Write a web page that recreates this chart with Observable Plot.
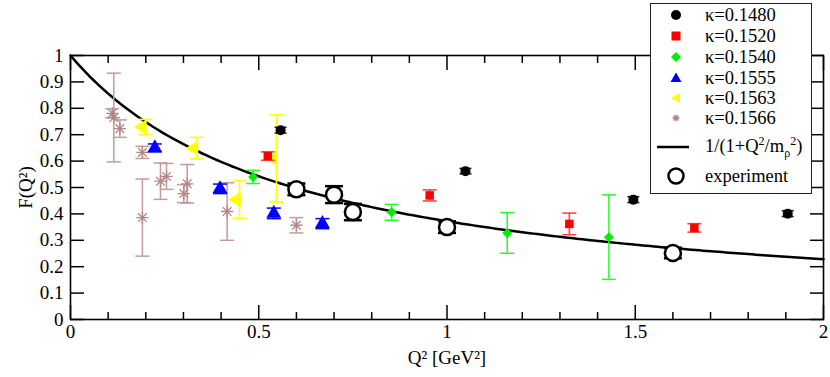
<!DOCTYPE html>
<html><head><meta charset="utf-8">
<script src="https://cdn.jsdelivr.net/npm/d3@7"></script>
<script src="https://cdn.jsdelivr.net/npm/@observablehq/plot@0.6"></script>
<style>
body{margin:0;background:#fff;}
#wrap{position:relative;width:830px;height:377px;font-family:"Liberation Serif","Times New Roman",serif;}
#legend{position:absolute;left:650px;top:3px;width:160px;height:189px;border:1.5px solid #222;background:#fff;}
.row{position:absolute;left:0;width:160px;height:22px;}
.row svg{position:absolute;left:13px;top:0;}
.row span{position:absolute;left:54px;top:0;line-height:22px;font-size:18.5px;color:#000;white-space:nowrap;font-family:"Liberation Serif","Times New Roman",serif;}
sup,sub{font-size:12px;line-height:0;}
</style></head>
<body><div id="wrap"><div id="chart"></div><div id="legend"></div></div>
<script>
// ---- data ----
const mRho = 0.77;                       // rho mass in the monopole curve 1/(1+Q^2/m_rho^2)
const kappaLabels = ["κ=0.1480","κ=0.1520","κ=0.1540","κ=0.1555","κ=0.1563","κ=0.1566"];

const k1480_q2  = [0.558, 1.049, 1.495, 1.905];
const k1480_f   = [0.717, 0.562, 0.454, 0.401];
const k1480_err = [0.011, 0.010, 0.011, 0.011];

const k1520_q2  = [0.524, 0.954, 1.325, 1.657];
const k1520_f   = [0.619, 0.470, 0.362, 0.347];
const k1520_err = [0.016, 0.021, 0.041, 0.016];

const k1540_q2  = [0.485, 0.853, 1.160, 1.430];
const k1540_f   = [0.540, 0.406, 0.328, 0.312];
const k1540_err = [0.025, 0.030, 0.077, 0.160];

const k1555_q2  = [0.224, 0.397, 0.540, 0.669];
const k1555_f   = [0.650, 0.495, 0.402, 0.363];
const k1555_err = [0.015, 0.018, 0.020, 0.019];

const k1563_q2  = [0.199, 0.336, 0.449, 0.547];
const k1563_f   = [0.729, 0.649, 0.454, 0.610];
const k1563_err = [0.029, 0.041, 0.071, 0.165];

const k1566_q2  = [0.111, 0.115, 0.131, 0.191, 0.191, 0.239, 0.255, 0.301, 0.310, 0.416, 0.600];
const k1566_f   = [0.781, 0.765, 0.723, 0.633, 0.386, 0.524, 0.542, 0.477, 0.514, 0.409, 0.357];
const k1566_err = [0.017, 0.168, 0.033, 0.023, 0.146, 0.069, 0.049, 0.034, 0.073, 0.109, 0.029];

const exp_q2  = [0.60, 0.70, 0.75, 1.00, 1.60];
const exp_f   = [0.493, 0.473, 0.407, 0.350, 0.252];
const exp_err = [0.022, 0.032, 0.031, 0.022, 0.020];

const xMajor = [0, 0.5, 1, 1.5, 2];
const xMinor = [0.1,0.2,0.3,0.4,0.6,0.7,0.8,0.9,1.1,1.2,1.3,1.4,1.6,1.7,1.8,1.9];
const yTicks = [0,0.1,0.2,0.3,0.4,0.5,0.6,0.7,0.8,0.9,1];

// ---- build tables ----
const rows = (q, f, e) => q.map((d, i) => ({q: d, f: f[i], e: e[i]}));
const curveQ = d3.range(0, 2.0001, 0.01);           // Q^2 values
const curve = curveQ.map(q => ({q, f: 1 / (1 + q / (mRho * mRho))}));

const hline = {draw(ctx, size) { const r = Math.sqrt(size / Math.PI); ctx.moveTo(-r, 0); ctx.lineTo(r, 0); }};

function errMarks(data, color, w, cap) {
  return [
    Plot.ruleX(data, {x: "q", y1: d => d.f - d.e, y2: d => d.f + d.e, stroke: color, strokeWidth: w}),
    Plot.dot(data, {x: "q", y: d => d.f - d.e, symbol: hline, r: cap, stroke: color, strokeWidth: w}),
    Plot.dot(data, {x: "q", y: d => d.f + d.e, symbol: hline, r: cap, stroke: color, strokeWidth: w})
  ];
}

const s1480 = rows(k1480_q2, k1480_f, k1480_err);
const s1520 = rows(k1520_q2, k1520_f, k1520_err);
const s1540 = rows(k1540_q2, k1540_f, k1540_err);
const s1555 = rows(k1555_q2, k1555_f, k1555_err);
const s1563 = rows(k1563_q2, k1563_f, k1563_err);
const s1566 = rows(k1566_q2, k1566_f, k1566_err);
const sExp  = rows(exp_q2, exp_f, exp_err);

const cBlack = "#000000", cRed = "#ff0000", cGreen = "#00ee00", cBlue = "#0000ff", cYellow = "#ffff00";
const serif = "'Liberation Serif', 'Times New Roman', serif";
const noText = () => "";
const tk = {label: null, tickFormat: noText, stroke: "#000", strokeWidth: 1.5};

const plot = Plot.plot({
  width: 830, height: 377,
  marginLeft: 70, marginRight: 7, marginTop: 55, marginBottom: 58,
  x: {domain: [0, 2]},
  y: {domain: [0, 1]},
  marks: [
    // inward ticks on all four sides
    Plot.axisX({anchor: "bottom", ticks: xMinor, tickSize: -7, ...tk}),
    Plot.axisX({anchor: "bottom", ticks: xMajor, tickSize: -14, ...tk}),
    Plot.axisX({anchor: "top", ticks: xMinor, tickSize: -7, ...tk}),
    Plot.axisX({anchor: "top", ticks: xMajor, tickSize: -14, ...tk}),
    Plot.axisY({anchor: "left", ticks: yTicks, tickSize: -14, ...tk}),
    Plot.axisY({anchor: "right", ticks: yTicks, tickSize: -14, ...tk}),
    Plot.line(curve, {x: "q", y: "f", stroke: "black", strokeWidth: 2.5}),
    ...errMarks(s1566, "#c49a9a", 1.5, 7),
    Plot.dot(s1566, {x: "q", y: "f", symbol: "plus", r: 4, stroke: "#b58585", strokeWidth: 1.3}),
    Plot.dot(s1566, {x: "q", y: "f", symbol: "times", r: 4, stroke: "#b58585", strokeWidth: 1.3}),
    ...errMarks(s1563, cYellow, 1.6, 7),
    Plot.dot(s1563, {x: "q", y: "f", symbol: "triangle", rotate: -90, r: 5.5, fill: cYellow, dx: -3}),
    ...errMarks(s1555, cBlue, 1.5, 7),
    Plot.dot(s1555, {x: "q", y: "f", symbol: "triangle", r: 5.5, fill: cBlue}),
    ...errMarks(s1540, "#22ff22", 1.5, 7),
    Plot.dot(s1540, {x: "q", y: "f", symbol: "diamond2", r: 4.5, fill: cGreen, stroke: "none"}),
    ...errMarks(s1520, "#ff4444", 1.6, 7),
    Plot.dot(s1520, {x: "q", y: "f", symbol: "square", r: 4.8, fill: cRed}),
    ...errMarks(s1480, "#222", 1.6, 6),
    Plot.dot(s1480, {x: "q", y: "f", symbol: "circle", r: 5, fill: cBlack}),
    ...errMarks(sExp, "black", 2.5, 9),
    Plot.dot(sExp, {x: "q", y: "f", symbol: "circle", r: 8, fill: "white", stroke: "black", strokeWidth: 2.5}),
    Plot.frame({stroke: "black", strokeWidth: 1.6}),
    // labels
    Plot.axisX({anchor: "bottom", ticks: xMajor, tickSize: 0, tickPadding: 5, tickFormat: d => String(d),
                label: "Q² [GeV²]", labelAnchor: "center", labelOffset: 44, labelArrow: "none",
                fontSize: 19, fontFamily: serif, fill: "black"}),
    Plot.axisY({anchor: "left", ticks: yTicks, tickSize: 0, tickPadding: 7, tickFormat: d => String(d),
                label: "F(Q²)", labelAnchor: "center", labelOffset: 52, labelArrow: "none",
                fontSize: 19, fontFamily: serif, fill: "black"})
  ]
});
document.getElementById("chart").appendChild(plot);
d3.select(plot).selectAll("text").style("font-family", serif).style("font-size", "19px");

// ---- legend ----
const legend = document.getElementById("legend");
const legendSym = [
  '<circle cx="12" cy="11" r="5" fill="#000"/>',
  '<rect x="7.5" y="6.5" width="9" height="9" fill="#ff0000"/>',
  '<path d="M12,6 L17,11 L12,16 L7,11Z" fill="#00ee00"/>',
  '<path d="M12,5.5 L17.5,15 L6.5,15Z" fill="#0000ff"/>',
  '<path d="M7,11 L16,6 L16,16Z" fill="#ffff00"/>',
  '<g stroke="#b58585" stroke-width="1.3"><path d="M12,7.5V14.5M8.5,11H15.5M9.5,8.5L14.5,13.5M14.5,8.5L9.5,13.5"/></g>'
];
const rowTops = [0, 21, 42, 63, 83, 103];
kappaLabels.forEach((lab, i) => {
  const r = document.createElement("div");
  r.className = "row"; r.style.top = rowTops[i] + "px";
  r.innerHTML = `<svg width="24" height="22">${legendSym[i]}</svg><span>${lab}</span>`;
  legend.appendChild(r);
});
const r7 = document.createElement("div");
r7.className = "row"; r7.style.top = "131px";
r7.innerHTML = `<svg width="36" height="22" style="left:6px"><line x1="0" y1="12" x2="32" y2="12" stroke="#000" stroke-width="2.5"/></svg><span>1/(1+Q<sup>2</sup>/m<sub>ρ</sub><sup>2</sup>)</span>`;
legend.appendChild(r7);
const r8 = document.createElement("div");
r8.className = "row"; r8.style.top = "161px";
r8.innerHTML = `<svg width="24" height="22"><circle cx="12" cy="11" r="7.5" fill="#fff" stroke="#000" stroke-width="2.5"/></svg><span>experiment</span>`;
legend.appendChild(r8);
</script></body></html>
